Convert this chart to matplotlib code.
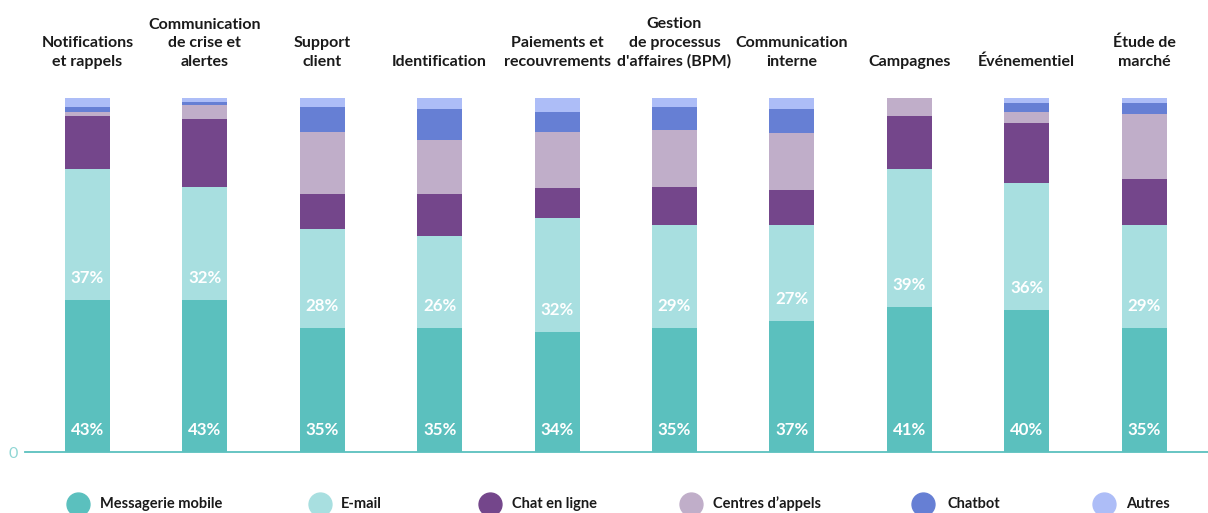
import matplotlib
matplotlib.use("Agg")
import matplotlib.pyplot as plt
from matplotlib.lines import Line2D
import numpy as np

plt.rcParams['font.family'] = ['Lato', 'DejaVu Sans']

categories = ["Notifications\net rappels", "Communication\nde crise et\nalertes", "Support\nclient",
              "Identification", "Paiements et\nrecouvrements", "Gestion\nde processus\nd'affaires (BPM)",
              "Communication\ninterne", "Campagnes", "Événementiel", "Étude de\nmarché"]

series_names = ["Messagerie mobile", "E-mail", "Chat en ligne", "Centres d’appels", "Chatbot", "Autres"]

messagerie = [43, 43, 35, 35, 34, 35, 37, 41, 40, 35]
email = [37, 32, 28, 26, 32, 29, 27, 39, 36, 29]
chat = [15, 19, 10, 12, 8.5, 11, 10, 15, 17, 13]
centres = [1, 4, 17.5, 15, 16, 16, 16, 5, 3, 18.5]
chatbot = [1.5, 1, 7, 9, 5.5, 6.5, 7, 0, 2.5, 3]
autres = [2.5, 1, 2.5, 3, 4, 2.5, 3, 0, 1.5, 1.5]

colors = ["#5bc0be", "#a8dfe0", "#74468b", "#c0aec9", "#667fd4", "#adbdf7"]

series = [messagerie, email, chat, centres, chatbot, autres]
labelled = [True, True, False, False, False, False]

fig = plt.figure(figsize=(12.08, 5.13), dpi=100)
ax = fig.add_axes([25 / 1208, 61 / 513, 1183 / 1208, 354 / 513])

x = np.arange(len(categories))
bottom = np.zeros(len(categories))
for vals, col, lab in zip(series, colors, labelled):
    vals = np.array(vals, dtype=float)
    ax.bar(x, vals, bottom=bottom, width=0.383, color=col, linewidth=0)
    if lab:
        for xi, b, v in zip(x, bottom, vals):
            ax.text(xi, b + 6.2, f"{v:.0f}%", ha='center', va='center', color='white',
                    fontsize=12.2, fontweight='bold')
    bottom += vals

ax.set_xlim(-0.532, 9.544)
ax.set_ylim(0, 100)
for s in ['top', 'right', 'left']:
    ax.spines[s].set_visible(False)
ax.spines['bottom'].set_color("#5bc0be")
ax.spines['bottom'].set_linewidth(1.3)
ax.set_xticks([])
ax.set_yticks([0])
ax.set_yticklabels(["0"], color="#8fd6d4", fontsize=11.5)
ax.tick_params(axis='y', length=0, pad=5)

for xi, cat in zip(x, categories):
    ax.annotate(cat, xy=(xi, 100), xycoords='data', xytext=(0, 29), textcoords='offset pixels',
                ha='center', va='bottom', fontsize=11.5, fontweight='bold', color='#1a1a1a',
                linespacing=1.42, annotation_clip=False)

# legend row
leg_circle_x = [78, 320, 490, 691, 923, 1104]
leg_text_x = [100, 341, 512, 713, 947, 1126]
leg_y = 1 - 504 / 513
for cx, tx, col, name in zip(leg_circle_x, leg_text_x, colors, series_names):
    fig.add_artist(Line2D([cx / 1208], [leg_y], marker='o', markersize=16.5, color=col,
                          linestyle='none', transform=fig.transFigure))
    fig.text(tx / 1208, leg_y, name, ha='left', va='center', fontsize=10.5,
             fontweight='bold', color='#1a1a1a')

fig.savefig("out.png", dpi=100)
